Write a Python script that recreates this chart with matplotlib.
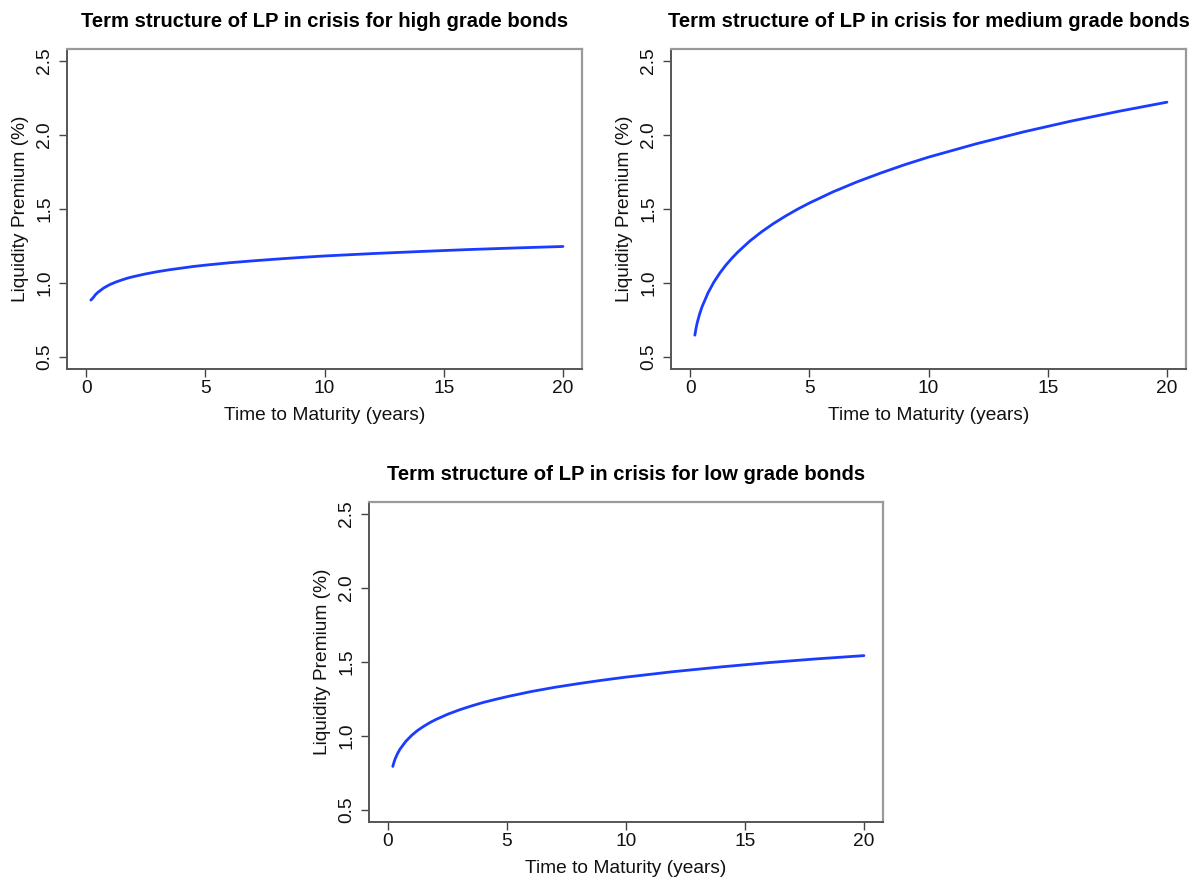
import matplotlib
matplotlib.use("Agg")
import matplotlib.pyplot as plt

# Maturities (years) and liquidity premium (%) for each rating bucket
maturity = [0.2, 0.25, 0.3, 0.4, 0.5, 0.75, 1, 1.25, 1.5, 1.75, 2, 2.5, 3,
            3.5, 4, 4.5, 5, 6, 7, 8, 9, 10, 12, 14, 16, 18, 20]

lp_high = [0.885, 0.893, 0.902, 0.923, 0.938, 0.968, 0.990, 1.007, 1.021,
           1.034, 1.044, 1.062, 1.077, 1.090, 1.101, 1.112, 1.121, 1.137,
           1.150, 1.162, 1.173, 1.183, 1.199, 1.213, 1.226, 1.237, 1.247]

lp_medium = [0.648, 0.695, 0.733, 0.791, 0.839, 0.933, 1.007, 1.068, 1.121,
             1.167, 1.209, 1.283, 1.346, 1.402, 1.452, 1.498, 1.540, 1.616,
             1.683, 1.743, 1.799, 1.850, 1.940, 2.021, 2.094, 2.160, 2.221]

lp_low = [0.795, 0.823, 0.847, 0.882, 0.911, 0.965, 1.006, 1.039, 1.066,
          1.090, 1.111, 1.147, 1.177, 1.203, 1.227, 1.247, 1.266, 1.300,
          1.329, 1.354, 1.377, 1.398, 1.435, 1.467, 1.496, 1.521, 1.543]

titles = ["Term structure of LP in crisis for high grade bonds",
          "Term structure of LP in crisis for medium grade bonds",
          "Term structure of LP in crisis for low grade bonds"]

x_ticks = [0, 5, 10, 15, 20]
y_ticks = [0.5, 1.0, 1.5, 2.0, 2.5]

plt.rcParams["font.family"] = ["Liberation Sans", "DejaVu Sans"]

W, H = 1198, 884
fig = plt.figure(figsize=(W / 100, H / 100), dpi=100)

# panel frames in pixels: left, top, right, bottom
frames = [(67, 49, 582, 369), (671, 49, 1186, 369), (369, 502, 883, 822)]
series = [lp_high, lp_medium, lp_low]

for (l, t, r, b), ys, title in zip(frames, series, titles):
    ax = fig.add_axes([l / W, 1 - b / H, (r - l) / W, (b - t) / H])
    ax.plot(maturity, ys, color="#1a3cff", lw=2.0, solid_capstyle="round",
            solid_joinstyle="round")
    ax.set_xlim(-0.8, 20.8)
    ax.set_ylim(0.5 - 0.08, 2.5 + 0.08)
    ax.set_xticks(x_ticks)
    ax.set_xticklabels([str(v) for v in x_ticks])
    ax.set_yticks(y_ticks)
    ax.set_yticklabels([f"{v:.1f}" for v in y_ticks], rotation=90, va="center")
    ax.tick_params(axis="both", direction="out", length=6, width=1.0,
                   color="#444444", labelsize=13.8, labelcolor="#111111")
    ax.tick_params(axis="x", pad=2)
    ax.tick_params(axis="y", pad=4)
    for side in ("top", "right"):
        ax.spines[side].set_color("#9a9a9a")
        ax.spines[side].set_linewidth(1.6)
    for side in ("bottom", "left"):
        ax.spines[side].set_color("#555555")
        ax.spines[side].set_linewidth(1.4)
    ax.set_xlabel("Time to Maturity (years)", fontsize=13.8, color="#111111",
                  labelpad=7)
    ax.set_ylabel("Liquidity Premium (%)", fontsize=13.8, color="#111111",
                  labelpad=5)
    ax.set_title(title, fontsize=14.6, fontweight="bold", pad=16)

fig.savefig("out.png", dpi=100, facecolor="white")
